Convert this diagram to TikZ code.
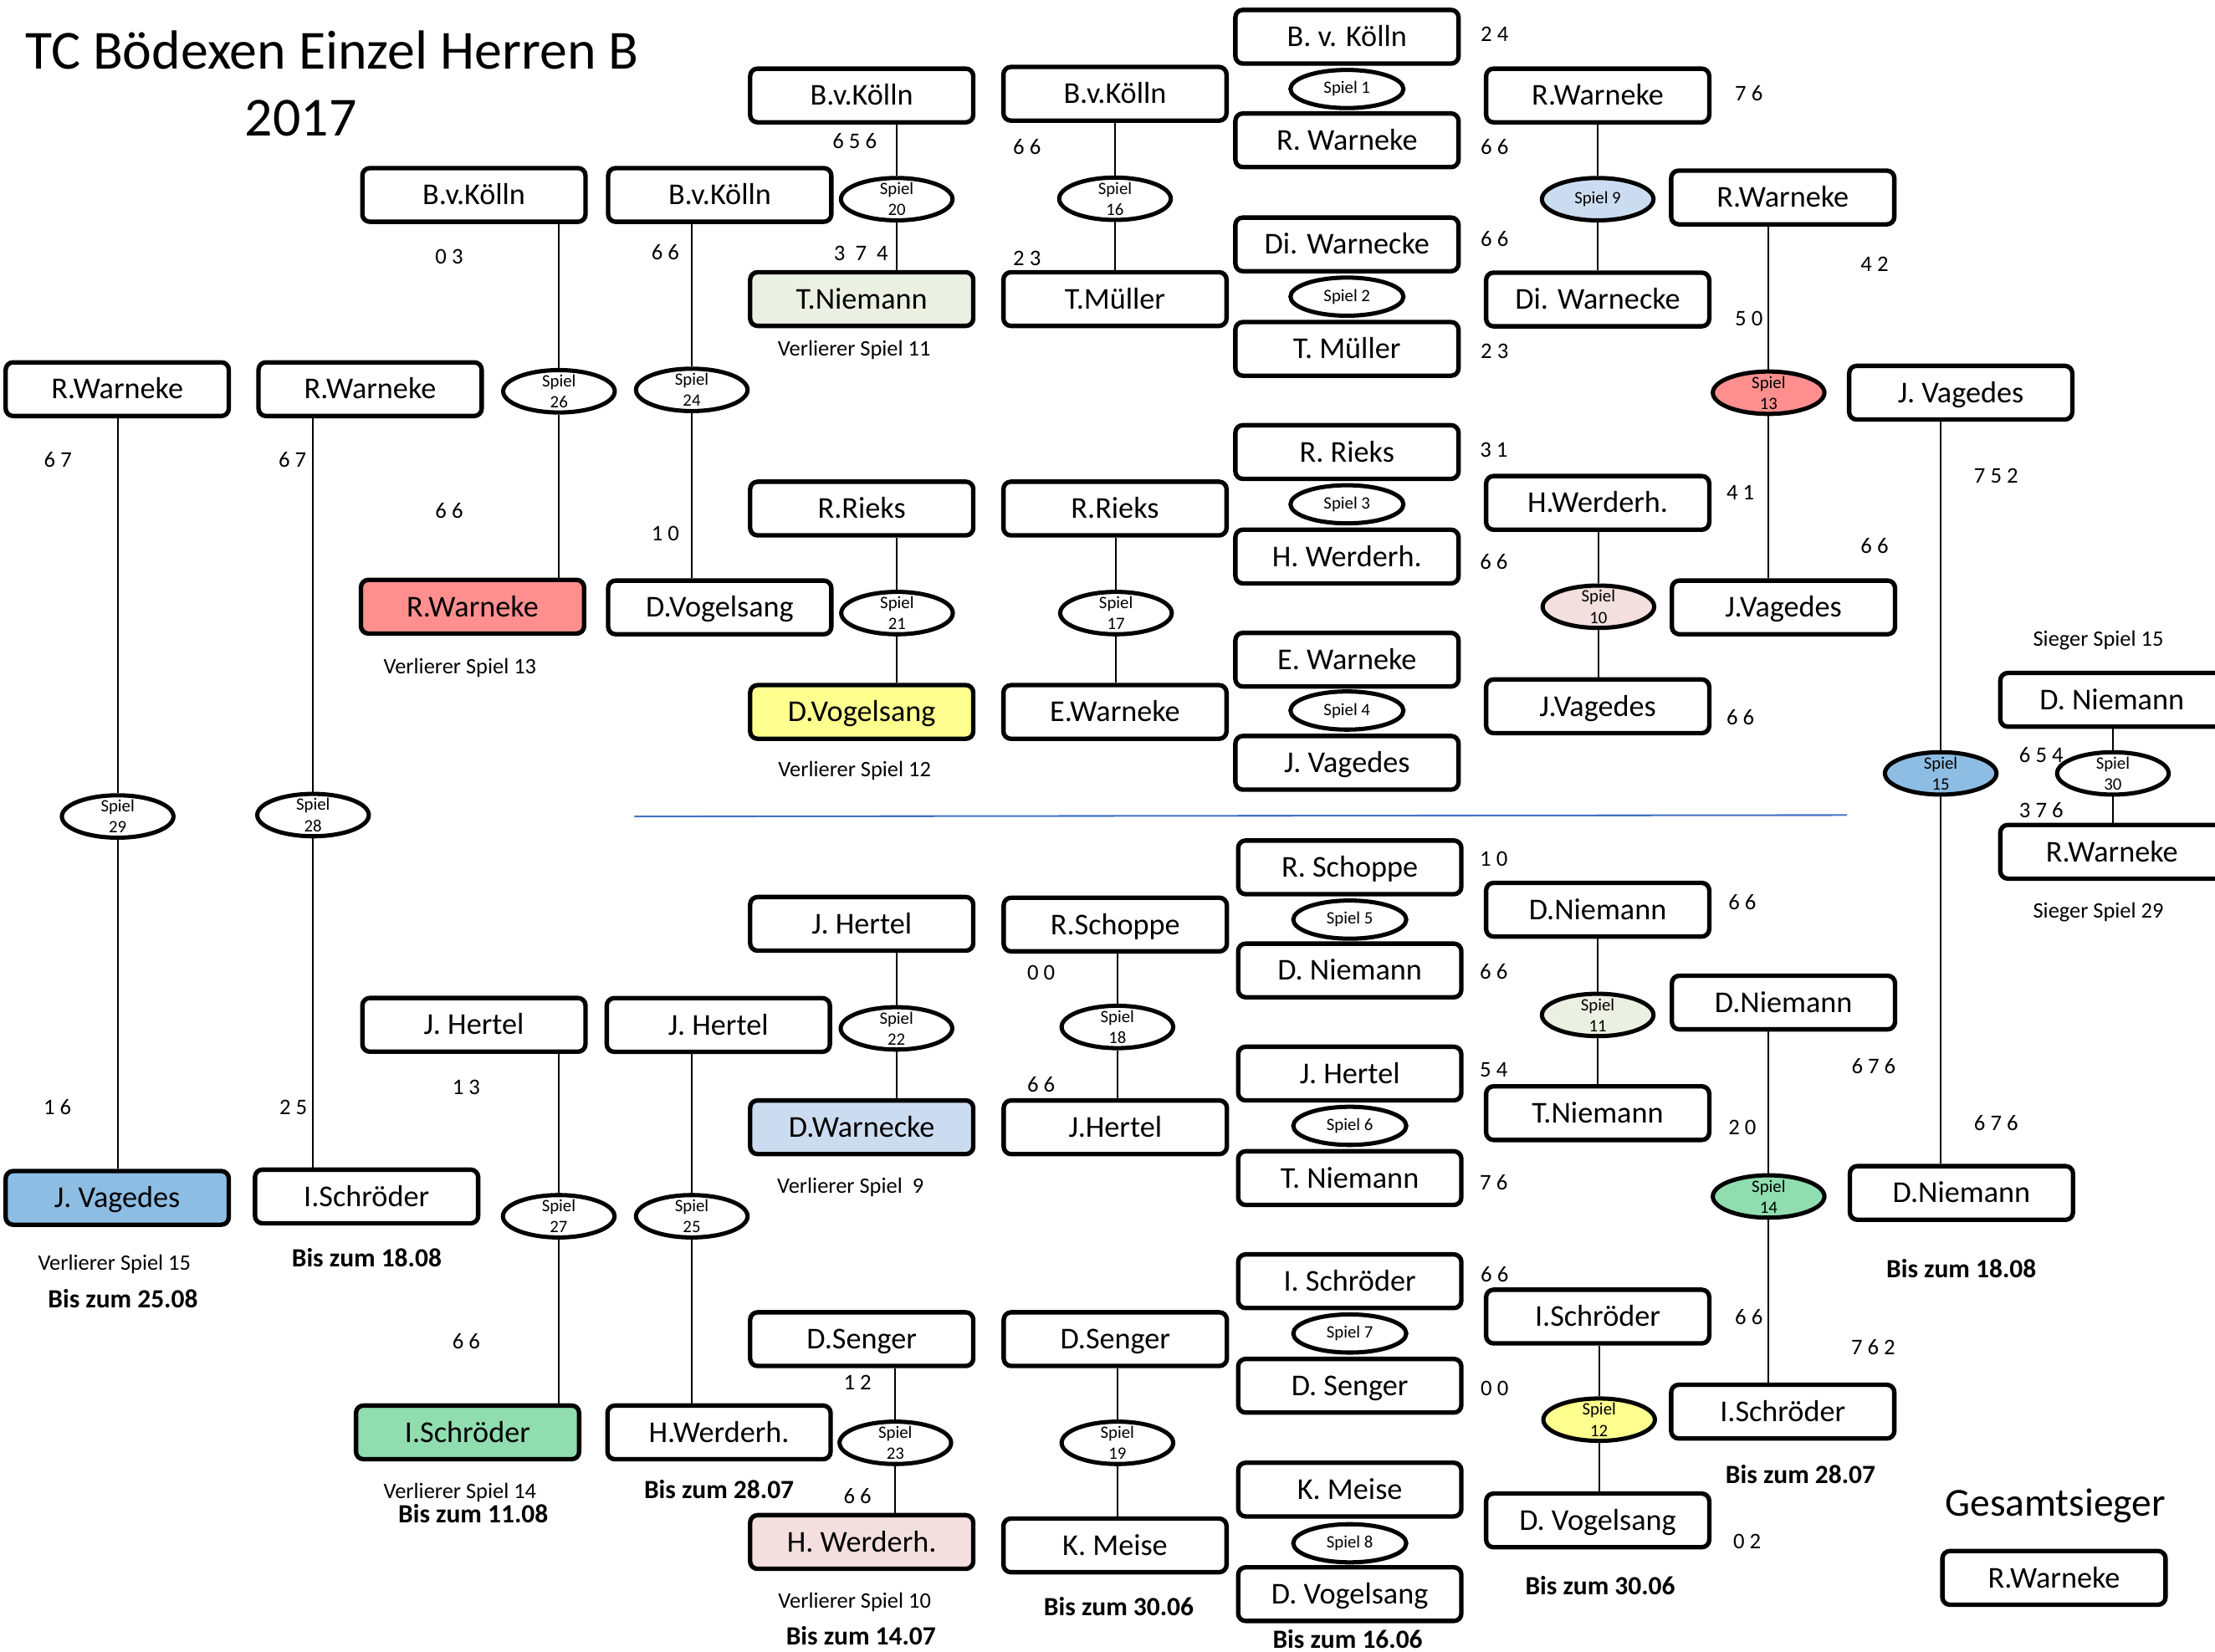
\documentclass[tikz,border=0pt]{standalone}
\usepackage{fontspec}
\setmainfont{Carlito}
\usetikzlibrary{shapes.geometric}
\definecolor{cred}{RGB}{255,143,143}
\definecolor{cblue}{RGB}{142,189,227}
\definecolor{cgreen}{RGB}{144,221,176}
\definecolor{clgreen}{RGB}{235,241,226}
\definecolor{cyellow}{RGB}{255,255,143}
\definecolor{clblue}{RGB}{204,220,240}
\definecolor{cpink}{RGB}{242,223,222}
\definecolor{cdivider}{RGB}{68,114,196}
\newcommand\spielline[3]{%
  \draw[conn] (#1.north) -- (#1.north |- #2.south);
  \draw[conn] (#1.south) -- (#1.south |- #3.north);}
\begin{document}
\begin{tikzpicture}[x=0.02cm,y=-0.02cm,
 box/.style={draw, line width=1.8pt, rounded corners=3pt, minimum width=3.16cm, minimum height=0.76cm, inner sep=0pt, font=\fontsize{12.2}{14}\selectfont, text height=7.9pt, text depth=0pt, fill=white},
 spiel/.style={ellipse, draw, line width=1.7pt, minimum width=1.58cm, minimum height=0.6cm, inner sep=0pt, fill=white},
 spielone/.style={spiel, minimum width=1.6cm, minimum height=0.54cm},
 st/.style={align=center, inner sep=0pt, font=\fontsize{7}{8.5}\selectfont},
 score/.style={inner sep=0pt, font=\fontsize{9}{10}\selectfont, text height=5.8pt, text depth=0pt},
 note/.style={inner sep=0pt, font=\fontsize{8.9}{10}\selectfont, text height=5.7pt, text depth=0pt},
 due/.style={inner sep=0pt, font=\fontsize{10.6}{12}\selectfont\bfseries, text height=6.8pt, text depth=0pt},
 conn/.style={line width=0.6pt},
]
\useasboundingbox (0,0) rectangle (1568,1169.4);
\clip (0,0) rectangle (1568,1169.4);

% title
\node[inner sep=0pt, font=\fontsize{22.2}{26}\selectfont, text height=14.3pt, text depth=0pt] (title1) at (235,36) {TC Bödexen Einzel Herren B};
\node[inner sep=0pt, font=\fontsize{22.2}{26}\selectfont, text height=14.3pt, text depth=0pt] (title2) at (213,83.5) {2017};

% column A
\node[box] (rA1) at (83,275.5) {R.Warneke};
\node[box, fill=cblue] (vA) at (83,848) {J. Vagedes};
% column B
\node[box] (rB1) at (262,275.5) {R.Warneke};
\node[box] (sB) at (259.5,847) {I.Schröder};
% column C
\node[box] (kC) at (335.5,138) {B.v.Kölln};
\node[box, fill=cred] (rC) at (334.5,429.5) {R.Warneke};
\node[box] (hC) at (335.5,725.5) {J. Hertel};
\node[box, fill=cgreen] (sC) at (331,1014) {I.Schröder};
% column D
\node[box] (kD) at (509.5,138) {B.v.Kölln};
\node[box] (vD) at (509.5,430) {D.Vogelsang};
\node[box] (hD) at (508.5,725.6) {J. Hertel};
\node[box] (wD) at (509,1014) {H.Werderh.};
% column E
\node[box] (kE) at (610,67.6) {B.v.Kölln};
\node[box, fill=clgreen] (nE) at (610,211.7) {T.Niemann};
\node[box] (rE) at (610,360) {R.Rieks};
\node[box, fill=cyellow] (vE) at (610,504) {D.Vogelsang};
\node[box] (hE) at (610,654) {J. Hertel};
\node[box, fill=clblue] (wE) at (610,798) {D.Warnecke};
\node[box] (sE) at (610,948) {D.Senger};
\node[box, fill=cpink] (hwE) at (610,1091.6) {H. Werderh.};
% column F
\node[box] (kF) at (789.3,66.4) {B.v.Kölln};
\node[box] (mF) at (789.3,211.7) {T.Müller};
\node[box] (rF) at (789.3,360) {R.Rieks};
\node[box] (eF) at (789.3,504) {E.Warneke};
\node[box] (sF) at (789.5,654.5) {R.Schoppe};
\node[box] (hF) at (789.5,798) {J.Hertel};
\node[box] (dF) at (789.5,948) {D.Senger};
\node[box] (kmF) at (789.3,1094) {K. Meise};
% column G
\node[box] (g1) at (953.5,26) {B. v. Kölln};
\node[box] (g2) at (953.5,99.3) {R. Warneke};
\node[box] (g3) at (953.5,173) {Di. Warnecke};
\node[box] (g4) at (953.5,247) {T. Müller};
\node[box] (g5) at (953.5,320) {R. Rieks};
\node[box] (g6) at (953.5,394) {H. Werderh.};
\node[box] (g7) at (953.5,467) {E. Warneke};
\node[box] (g8) at (953.5,540) {J. Vagedes};
\node[box] (g9) at (955.5,614) {R. Schoppe};
\node[box] (g10) at (955.5,687) {D. Niemann};
\node[box] (g11) at (955.5,760) {J. Hertel};
\node[box] (g12) at (955.5,834) {T. Niemann};
\node[box] (g13) at (955.5,907) {I. Schröder};
\node[box] (g14) at (955.5,981) {D. Senger};
\node[box] (g15) at (955.5,1054.5) {K. Meise};
\node[box] (g16) at (955.5,1128.5) {D. Vogelsang};
\node[spielone, label={[st]center:Spiel 1}] (s1) at (953.5,63) {};
\node[spielone, label={[st]center:Spiel 2}] (s2) at (953.5,210) {};
\node[spielone, label={[st]center:Spiel 3}] (s3) at (953.5,357) {};
\node[spielone, label={[st]center:Spiel 4}] (s4) at (953.5,503) {};
\node[spielone, label={[st]center:Spiel 5}] (s5) at (955.5,651) {};
\node[spielone, label={[st]center:Spiel 6}] (s6) at (955.5,797) {};
\node[spielone, label={[st]center:Spiel 7}] (s7) at (955.5,944) {};
\node[spielone, label={[st]center:Spiel 8}] (s8) at (955.5,1092.5) {};
% column H
\node[box] (h1) at (1131,67.6) {R.Warneke};
\node[box] (h2) at (1131,212) {Di. Warnecke};
\node[box] (h3) at (1131,356) {H.Werderh.};
\node[box] (h4) at (1131,500) {J.Vagedes};
\node[box] (h5) at (1131,644) {D.Niemann};
\node[box] (h6) at (1131,788) {T.Niemann};
\node[box] (h7) at (1131,932) {I.Schröder};
\node[box] (h8) at (1131,1076.3) {D. Vogelsang};
% column I
\node[box] (i1) at (1262,139.8) {R.Warneke};
\node[box] (i2) at (1262.5,430) {J.Vagedes};
\node[box] (i3) at (1262.5,709.7) {D.Niemann};
\node[box] (i4) at (1262,999.3) {I.Schröder};
% column J
\node[box] (j1) at (1388,278) {J. Vagedes};
\node[box] (j2) at (1388.5,844.5) {D.Niemann};
% column K
\node[box] (k1) at (1495,495.4) {D. Niemann};
\node[box] (k2) at (1495,603) {R.Warneke};
% final
\node[box] (fin) at (1454,1117) {R.Warneke};

% games
\node[spiel, label={[st]center:{Spiel\\29}}] (s29) at (83.3,578) {};
\node[spiel, label={[st]center:{Spiel\\28}}] (s28) at (221.6,577) {};
\node[spiel, label={[st]center:{Spiel\\26}}] (s26) at (395.7,277) {};
\node[spiel, label={[st]center:{Spiel\\27}}] (s27) at (395.5,861) {};
\node[spiel, label={[st]center:{Spiel\\24}}] (s24) at (489.7,276) {};
\node[spiel, label={[st]center:{Spiel\\25}}] (s25) at (489.7,861) {};
\node[spiel, label={[st]center:{Spiel\\20}}] (s20) at (634.8,141) {};
\node[spiel, label={[st]center:{Spiel\\21}}] (s21) at (635,434) {};
\node[spiel, label={[st]center:{Spiel\\22}}] (s22) at (634.6,728) {};
\node[spiel, label={[st]center:{Spiel\\23}}] (s23) at (633.8,1021.4) {};
\node[spiel, label={[st]center:{Spiel\\16}}] (s16) at (789.3,140.7) {};
\node[spiel, label={[st]center:{Spiel\\17}}] (s17) at (790,434) {};
\node[spiel, label={[st]center:{Spiel\\18}}] (s18) at (791,727) {};
\node[spiel, label={[st]center:{Spiel\\19}}] (s19) at (791,1021.4) {};
\node[spiel, fill=clblue, label={[st]center:Spiel 9}] (s9) at (1131,141) {};
\node[spiel, fill=cpink, label={[st]center:{Spiel\\10}}] (s10) at (1131.5,429.5) {};
\node[spiel, fill=clgreen, label={[st]center:{Spiel\\11}}] (s11) at (1131,718.5) {};
\node[spiel, fill=cyellow, label={[st]center:{Spiel\\12}}] (s12) at (1132,1005) {};
\node[spiel, fill=cred, label={[st]center:{Spiel\\13}}] (s13) at (1252,278) {};
\node[spiel, fill=cgreen, label={[st]center:{Spiel\\14}}] (s14) at (1252,847) {};
\node[spiel, fill=cblue, label={[st]center:{Spiel\\15}}] (s15) at (1373.8,547.5) {};
\node[spiel, label={[st]center:{Spiel\\30}}] (s30) at (1495.7,547.5) {};

% connectors
\spielline{s29}{rA1}{vA}
\spielline{s28}{rB1}{sB}
\spielline{s26}{kC}{rC}
\spielline{s27}{hC}{sC}
\spielline{s24}{kD}{vD}
\spielline{s25}{hD}{wD}
\spielline{s20}{kE}{nE}
\spielline{s21}{rE}{vE}
\spielline{s22}{hE}{wE}
\spielline{s23}{sE}{hwE}
\spielline{s16}{kF}{mF}
\spielline{s17}{rF}{eF}
\spielline{s18}{sF}{hF}
\spielline{s19}{dF}{kmF}
\spielline{s9}{h1}{h2}
\spielline{s10}{h3}{h4}
\spielline{s11}{h5}{h6}
\spielline{s12}{h7}{h8}
\spielline{s13}{i1}{i2}
\spielline{s14}{i3}{i4}
\spielline{s15}{j1}{j2}
\spielline{s30}{k1}{k2}

% divider
\coordinate (dv1) at (449,578);
\coordinate (dv2) at (1307.5,577);
\draw[cdivider, line width=0.7pt] (dv1) -- (dv2);

% scores
\node[score] (sc1) at (1058,24.5) {2 4};
\node[score] (sc2) at (1058,104) {6 6};
\node[score] (sc3) at (1238,66.3) {7 6};
\node[score] (sc4) at (605,100) {6 5 6};
\node[score] (sc5) at (727,104) {6 6};
\node[score] (sc6) at (318,182) {0 3};
\node[score] (sc7) at (471,179) {6 6};
\node[score] (sc8) at (609.5,179.6) {3\ \ 7\ \ 4};
\node[score] (sc9) at (727,183) {2 3};
\node[score] (sc10) at (1058,169.2) {6 6};
\node[score] (sc11) at (1327,187) {4 2};
\node[score] (sc12) at (1238,225.3) {5 0};
\node[score] (sc13) at (1058,248.4) {2 3};
\node[score] (sc14) at (41,325.7) {6 7};
\node[score] (sc15) at (207,325.7) {6 7};
\node[score] (sc16) at (318,362) {6 6};
\node[score] (sc17) at (471,378) {1 0};
\node[score] (sc18) at (1057.5,318.6) {3 1};
\node[score] (sc19) at (1232,349) {4 1};
\node[score] (sc20) at (1413,337) {7 5 2};
\node[score] (sc21) at (1327,386.7) {6 6};
\node[score] (sc22) at (1057.5,398) {6 6};
\node[score] (sc23) at (1232,508) {6 6};
\node[score] (sc24) at (1445,534.7) {6 5 4};
\node[score] (sc25) at (1445,574) {3 7 6};
\node[score] (sc26) at (1057.4,608) {1 0};
\node[score] (sc27) at (1233.4,639) {6 6};
\node[score] (sc28) at (737,688.5) {0 0};
\node[score] (sc29) at (1057.4,688) {6 6};
\node[score] (sc30) at (1326.3,755) {6 7 6};
\node[score] (sc31) at (1057.4,757) {5 4};
\node[score] (sc32) at (737,767.8) {6 6};
\node[score] (sc33) at (330,770) {1 3};
\node[score] (sc34) at (40.6,784) {1 6};
\node[score] (sc35) at (207.6,784) {2 5};
\node[score] (sc36) at (1233.4,798.4) {2 0};
\node[score] (sc37) at (1413,795) {6 7 6};
\node[score] (sc38) at (1057.4,837) {7 6};
\node[score] (sc39) at (1058,902.6) {6 6};
\node[score] (sc40) at (1238,932.8) {6 6};
\node[score] (sc41) at (1326,954) {7 6 2};
\node[score] (sc42) at (330,950) {6 6};
\node[score] (sc43) at (607,979) {1 2};
\node[score] (sc44) at (1058,982.6) {0 0};
\node[score] (sc45) at (607,1059.5) {6 6};
\node[score] (sc46) at (1236.8,1091.5) {0 2};

% notes
\node[note] (n1) at (604.7,246.7) {Verlierer Spiel 11};
\node[note] (n2) at (325.6,471.7) {Verlierer Spiel 13};
\node[note] (n3) at (605,544.8) {Verlierer Spiel 12};
\node[note] (n4) at (602,839.8) {Verlierer Spiel\ \ 9};
\node[note] (n5) at (81,894) {Verlierer Spiel 15};
\node[note] (n6) at (325.6,1056) {Verlierer Spiel 14};
\node[note] (n7) at (605,1133.4) {Verlierer Spiel 10};
\node[note] (n8) at (1485.4,452.4) {Sieger Spiel 15};
\node[note] (n9) at (1485.4,644.8) {Sieger Spiel 29};

% deadlines
\node[due] (d1) at (87,919.6) {Bis zum 25.08};
\node[due] (d2) at (259.6,891) {Bis zum 18.08};
\node[due] (d3) at (335,1072) {Bis zum 11.08};
\node[due] (d4) at (509,1055) {Bis zum 28.07};
\node[due] (d5) at (609.5,1158.6) {Bis zum 14.07};
\node[due] (d6) at (792,1138) {Bis zum 30.06};
\node[due] (d7) at (954,1161) {Bis zum 16.06};
\node[due] (d8) at (1132.8,1122.7) {Bis zum 30.06};
\node[due] (d9) at (1274.6,1044) {Bis zum 28.07};
\node[due] (d10) at (1388.4,898.7) {Bis zum 18.08};

\node[inner sep=0pt, font=\fontsize{16}{19}\selectfont, text height=10.3pt, text depth=0pt] (ges) at (1455,1064.4) {Gesamtsieger};
\end{tikzpicture}
\end{document}
